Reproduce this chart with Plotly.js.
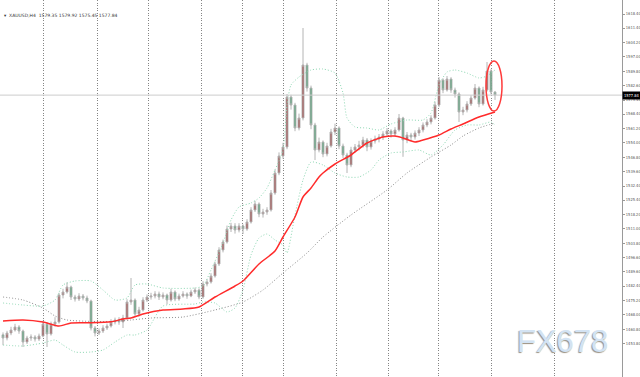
<!DOCTYPE html>
<html>
<head>
<meta charset="utf-8">
<script src="https://cdn.plot.ly/plotly-3.0.1.min.js"></script>
<style>
  html, body { margin: 0; padding: 0; background: #fff; }
  #chart { width: 640px; height: 377px; }
</style>
</head>
<body>
<div id="chart"></div>
<script>
// ---- Data (XAUUSD, H4) ----
const symbolLabel = "XAUUSD,H4";
const lastOHLC = [1579.35, 1579.92, 1575.45, 1577.84];

const open = [1458.0,1456.4,1458.9,1460.4,1461.9,1459.9,1454.4,1456.4,1456.9,1455.9,
 1457.4,1463.4,1458.4,1463.4,1464.4,1477.9,1479.4,1481.9,1476.9,1475.9,
 1477.4,1476.4,1474.9,1461.4,1458.9,1459.9,1461.4,1462.4,1464.4,1465.4,
 1464.4,1466.4,1474.4,1475.4,1468.4,1470.4,1475.4,1476.9,1477.4,1478.4,
 1476.9,1477.9,1475.4,1479.4,1475.9,1477.4,1478.4,1477.4,1479.4,1480.4,
 1476.9,1483.4,1484.4,1487.4,1493.4,1500.4,1504.4,1510.9,1512.4,1510.4,
 1512.4,1510.9,1514.4,1520.4,1523.4,1518.4,1519.4,1520.4,1528.9,1538.9,
 1547.4,1551.9,1576.9,1572.9,1561.4,1566.4,1592.9,1581.4,1562.9,1550.4,
 1554.4,1548.4,1552.4,1559.4,1561.4,1552.4,1547.9,1542.9,1550.4,1551.9,
 1552.9,1555.4,1551.9,1554.9,1555.9,1556.9,1558.4,1559.9,1558.4,1560.4,
 1566.4,1555.4,1557.9,1556.9,1558.9,1560.4,1562.9,1564.4,1566.4,1572.9,
 1585.4,1580.4,1585.9,1580.4,1578.4,1569.4,1570.4,1573.4,1576.4,1581.4,
 1573.4,1580.4,1589.9,1579.35];

const high = [1459.2,1460.0,1462.0,1463.5,1462.8,1460.6,1457.5,1458.2,1457.8,1458.6,
 1465.0,1464.2,1464.6,1466.8,1479.0,1481.0,1484.2,1482.6,1478.0,1478.8,
 1478.4,1477.6,1475.6,1462.4,1461.2,1462.8,1463.6,1465.8,1466.6,1466.8,
 1468.0,1475.8,1486.4,1476.2,1472.0,1476.8,1478.2,1479.0,1479.8,1479.6,
 1479.2,1478.6,1481.0,1480.2,1478.6,1479.8,1479.2,1480.6,1481.6,1481.2,
 1484.8,1485.8,1488.8,1494.6,1501.8,1505.6,1512.6,1514.0,1513.8,1513.8,
 1513.2,1515.8,1521.8,1525.0,1524.2,1521.0,1521.8,1530.4,1540.6,1549.2,
 1554.0,1578.4,1578.0,1574.0,1568.6,1611.4,1594.0,1582.6,1564.0,1556.6,
 1555.2,1554.0,1561.0,1563.6,1562.2,1553.6,1549.0,1552.0,1553.4,1555.0,
 1557.0,1556.4,1556.2,1557.6,1558.4,1559.8,1561.4,1560.8,1561.8,1568.4,
 1567.0,1559.4,1559.0,1560.2,1561.8,1564.2,1565.8,1567.8,1574.6,1586.9,
 1586.2,1587.4,1586.8,1581.6,1579.2,1572.0,1574.8,1577.8,1583.4,1582.2,
 1582.0,1594.4,1590.8,1579.92];

const low = [1452.8,1455.2,1457.8,1459.6,1458.5,1451.9,1453.4,1455.0,1454.6,1454.9,
 1456.8,1451.9,1457.6,1462.0,1463.6,1476.2,1478.6,1475.4,1474.6,1474.9,
 1475.2,1473.8,1460.2,1457.2,1457.9,1458.9,1460.4,1461.6,1463.2,1463.0,
 1461.4,1465.6,1473.0,1466.8,1467.0,1469.6,1474.4,1475.6,1476.2,1475.4,
 1475.8,1473.2,1474.6,1474.8,1475.0,1476.6,1476.0,1476.8,1478.4,1475.8,
 1476.0,1482.2,1483.6,1486.6,1492.4,1499.2,1503.6,1509.4,1508.6,1509.2,
 1508.4,1510.0,1513.6,1519.4,1516.8,1516.6,1518.0,1519.6,1528.0,1537.8,
 1546.0,1550.8,1570.6,1559.8,1560.2,1565.2,1579.6,1560.8,1545.4,1549.2,
 1546.8,1547.2,1551.6,1557.8,1550.8,1546.4,1538.9,1541.8,1549.0,1550.2,
 1551.6,1549.8,1550.6,1553.6,1554.2,1555.4,1557.0,1556.6,1557.0,1559.6,
 1547.0,1553.8,1554.8,1555.6,1557.4,1559.2,1561.8,1563.2,1565.6,1571.8,
 1578.8,1579.6,1579.0,1576.6,1564.4,1567.8,1569.2,1572.4,1575.6,1571.8,
 1572.6,1579.6,1578.2,1575.45];

const close = [1456.4,1458.9,1460.4,1461.9,1459.9,1454.4,1456.4,1456.9,1455.9,1457.4,
 1463.4,1458.4,1463.4,1464.4,1477.9,1479.4,1481.9,1476.9,1475.9,1477.4,
 1476.4,1474.9,1461.4,1458.9,1459.9,1461.4,1462.4,1464.4,1465.4,1464.4,
 1466.4,1474.4,1475.4,1468.4,1470.4,1475.4,1476.9,1477.4,1478.4,1476.9,
 1477.9,1475.4,1479.4,1475.9,1477.4,1478.4,1477.4,1479.4,1480.4,1476.9,
 1483.4,1484.4,1487.4,1493.4,1500.4,1504.4,1510.9,1512.4,1510.4,1512.4,
 1510.9,1514.4,1520.4,1523.4,1518.4,1519.4,1520.4,1528.9,1538.9,1547.4,
 1551.9,1576.9,1572.9,1561.4,1566.4,1592.9,1581.4,1562.9,1550.4,1554.4,
 1548.4,1552.4,1559.4,1561.4,1552.4,1547.9,1542.9,1550.4,1551.9,1552.9,
 1555.4,1551.9,1554.9,1555.9,1556.9,1558.4,1559.9,1558.4,1560.4,1566.4,
 1555.4,1557.9,1556.9,1558.9,1560.4,1562.9,1564.4,1566.4,1572.9,1585.4,
 1580.4,1585.9,1580.4,1578.4,1569.4,1570.4,1573.4,1576.4,1581.4,1573.4,
 1580.4,1589.9,1579.4,1577.84];

// Fast MA (red), sampled at bar indices
const maFastBar = [0,5,10,14,17,22,27,30,32,35,40,45,49,53,58,60,64,68,70,73,75,77,79,80,83,87,91,95,98,100,103,105,109,112,115,119,123];
const maFastVal = [1464.9,1465.4,1464.4,1462.4,1463.9,1464.0,1464.5,1465.9,1466.4,1468.4,1470.4,1470.9,1471.9,1476.9,1482.4,1484.9,1493.4,1499.9,1506.9,1516.9,1526.9,1531.4,1536.9,1538.9,1543.4,1547.9,1553.9,1556.9,1557.4,1556.4,1554.4,1555.4,1557.9,1560.9,1563.4,1566.9,1569.4];

// Slow MA (grey dotted)
const maSlowBar = [0,5,10,13,16,22,27,32,37,45,53,60,65,70,76,80,87,96,101,107,112,115,119,123];
const maSlowVal = [1476.9,1475.4,1471.4,1467.4,1465.4,1464.7,1464.7,1465.4,1466.4,1466.9,1470.4,1474.4,1480.4,1488.9,1498.9,1506.9,1517.9,1530.4,1538.9,1546.9,1552.9,1557.4,1561.4,1563.9];

// Bollinger bands (green dotted)
const bbUpBar = [0,5,10,13,15,18,22,25,28,31,33,36,40,48,50,52,55,57,59,62,64,66,68,70,71,72,74,77,80,83,85,86,88,91,94,97,101,105,107,109,111,113,116,119,121,123];
const bbUpVal = [1473.9,1472.9,1472.4,1475.4,1482.9,1484.9,1484.9,1480.4,1475.4,1476.4,1482.9,1483.4,1481.4,1481.4,1482.4,1490.4,1503.9,1515.4,1521.9,1523.9,1526.4,1531.4,1540.4,1550.4,1572.9,1582.9,1586.9,1590.4,1590.9,1588.9,1578.9,1566.4,1561.9,1561.4,1560.4,1563.4,1565.4,1565.4,1568.9,1582.9,1589.4,1590.4,1588.9,1586.4,1587.4,1590.4];
const bbLoBar = [0,5,10,13,15,18,22,25,28,31,33,36,40,48,50,53,56,58,60,62,64,66,68,70,71,73,75,77,80,83,86,89,92,94,97,100,104,107,110,113,116,119,122,123];
const bbLoVal = [1452.9,1452.4,1453.9,1455.4,1452.9,1449.4,1449.4,1450.4,1454.4,1457.9,1457.9,1460.4,1472.4,1473.4,1474.4,1473.9,1469.4,1471.4,1480.4,1497.9,1506.4,1508.4,1505.4,1502.9,1498.9,1517.9,1535.4,1544.4,1542.9,1538.9,1536.9,1536.9,1540.4,1545.4,1548.9,1549.4,1550.4,1547.9,1552.9,1560.4,1562.9,1562.9,1564.4,1562.9];

// Price-axis labels
const priceTicks = [1618.40,1611.40,1604.20,1597.00,1589.80,1582.60,1575.40,1568.40,1561.20,1554.00,1546.80,1539.60,1532.40,1525.40,1518.20,1511.00,1503.80,1496.60,1489.60,1482.40,1475.20,1468.00,1460.80,1453.80];
// Period separators (bar positions)
const separators = [10,23.5,36.25,49.5,59.75,70,83.25,96.25,108.75,122,137.75];

const bars = close.map((_, i) => i);
// candle bodies as bars (coloured), wicks + outline from the candlestick trace (grey)
const bodyBase = open.map((o, i) => Math.min(o, close[i]));
const bodySize = open.map((o, i) => Math.max(Math.abs(close[i] - o), 0.4));
const bodyColor = open.map((o, i) => close[i] >= o ? '#8e2424' : '#2f8f5b');

const dotted = '1px,2px';
const traces = [
  { x: bbUpBar, y: bbUpVal, type: 'scatter', mode: 'lines', hoverinfo: 'skip',
    line: { color: '#8fd8b4', width: 1, dash: dotted, shape: 'spline', smoothing: 0.6 } },
  { x: bbLoBar, y: bbLoVal, type: 'scatter', mode: 'lines', hoverinfo: 'skip',
    line: { color: '#8fd8b4', width: 1, dash: dotted, shape: 'spline', smoothing: 0.6 } },
  { x: maSlowBar, y: maSlowVal, type: 'scatter', mode: 'lines', hoverinfo: 'skip',
    line: { color: '#8c8c8c', width: 1, dash: dotted, shape: 'spline', smoothing: 0.6 } },
  { x: bars, y: bodySize, base: bodyBase, type: 'bar', width: 0.42, hoverinfo: 'skip',
    marker: { color: bodyColor, line: { width: 0 } } },
  { x: bars, open: open, high: high, low: low, close: close, type: 'candlestick',
    whiskerwidth: 0,
    increasing: { line: { color: '#b4b4b4', width: 1 }, fillcolor: 'rgba(0,0,0,0)' },
    decreasing: { line: { color: '#b4b4b4', width: 1 }, fillcolor: 'rgba(0,0,0,0)' } },
  { x: maFastBar, y: maFastVal, type: 'scatter', mode: 'lines', hoverinfo: 'skip',
    line: { color: '#ff2b2b', width: 1.5, shape: 'spline', smoothing: 0.6 } }
];

const layout = {
  width: 640, height: 377,
  margin: { l: 0, r: 18, t: 0, b: 0 },
  paper_bgcolor: '#ffffff', plot_bgcolor: '#ffffff',
  showlegend: false,
  xaxis: {
    range: [-0.75, 154.75], rangeslider: { visible: false },
    tickmode: 'array', tickvals: separators, showticklabels: false, ticks: '',
    showgrid: true, gridcolor: '#858585', gridwidth: 1, griddash: '1px,1.5px',
    zeroline: false, showline: false, fixedrange: true
  },
  yaxis: {
    range: [1436.9, 1625.4], side: 'right',
    tickmode: 'array', tickvals: priceTicks, ticktext: priceTicks.map(v => v.toFixed(2)),
    tickfont: { family: 'Liberation Sans Narrow, DejaVu Sans Condensed, Liberation Sans, sans-serif', size: 4, color: '#555' },
    ticks: 'outside', ticklen: 2, tickcolor: '#999',
    showline: true, linecolor: '#9a9a9a', linewidth: 1,
    showgrid: false, zeroline: false, automargin: false, fixedrange: true
  },
  shapes: [
    { type: 'line', xref: 'paper', x0: 0, x1: 1, yref: 'y', y0: lastOHLC[3], y1: lastOHLC[3],
      line: { color: '#cccccc', width: 1 } },
    { type: 'circle', xref: 'x', yref: 'y', x0: 120.75, x1: 124.75, y0: 1569.9, y1: 1594.9,
      line: { color: '#ff3b3b', width: 1.5 } }
  ],
  annotations: [
    { xref: 'paper', yref: 'paper', x: 0.004, y: 0.96, xanchor: 'left', yanchor: 'middle',
      showarrow: false, text: '▾  ' + symbolLabel + '  ' + lastOHLC.map(v => v.toFixed(2)).join(' '),
      font: { family: 'DejaVu Sans, sans-serif', size: 4.5, color: '#333' } },
    { xref: 'paper', yref: 'y', x: 1, y: lastOHLC[3], xanchor: 'left', yanchor: 'middle',
      showarrow: false, text: lastOHLC[3].toFixed(2), bgcolor: '#000', borderpad: 1,
      font: { family: 'Liberation Sans Narrow, DejaVu Sans Condensed, Liberation Sans, sans-serif', size: 4, color: '#fff' } },
    { xref: 'paper', yref: 'paper', x: 0.905, y: 0.095, xanchor: 'center', yanchor: 'middle',
      showarrow: false, text: 'FX678',
      font: { family: 'Liberation Sans, Arial, sans-serif', size: 31, color: '#d3e3f3',
              shadow: '-1px 1px 1px #9a9080' } }
  ]
};

Plotly.newPlot('chart', traces, layout, { staticPlot: true, displayModeBar: false });
</script>
</body>
</html>
